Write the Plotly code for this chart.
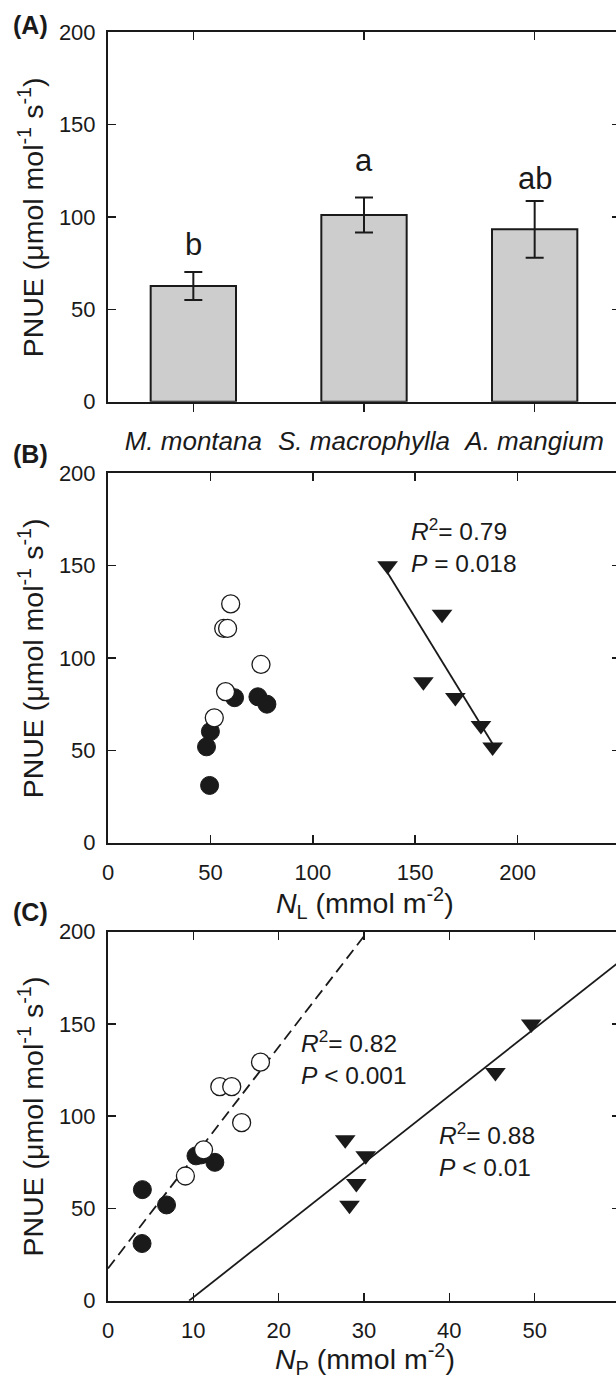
import plotly.graph_objects as go

# ---------------- data ----------------
species = ["M. montana", "S. macrophylla", "A. mangium"]
pnue_mean = [62.6, 101.1, 93.3]
pnue_se = [7.6, 9.5, 15.3]
sig_letters = ["b", "a", "ab"]

# M. montana (filled circles)
mm_NL = [50.0, 48.1, 49.6, 61.8, 73.2, 77.6]
mm_NP = [4.03, 6.86, 3.99, 10.31, 10.9, 12.52]
mm_PNUE = [60.2, 51.9, 31.0, 78.5, 79.0, 75.0]

# S. macrophylla (open circles)
sm_NL = [59.9, 56.5, 58.4, 74.7, 57.4, 51.9]
sm_NP = [17.87, 13.1, 14.5, 15.66, 11.2, 9.07]
sm_PNUE = [129.3, 116.0, 116.0, 96.5, 81.8, 67.6]

# A. mangium (filled triangles)
am_NL = [136.5, 163.1, 154.0, 169.6, 182.1, 187.8]
am_NP = [49.6, 45.4, 27.8, 30.2, 29.1, 28.3]
am_PNUE = [150.0, 123.7, 87.2, 78.6, 63.5, 51.8]

# regression lines (end points)
fitB_x = [136.5, 187.8]
fitB_y = [146.2, 53.6]
fitC_circ_x = [0.0, 30.4]
fitC_circ_y = [17.5, 200.0]
fitC_tri_x = [9.5, 60.0]
fitC_tri_y = [0.0, 184.0]

y_ticks = [0, 50, 100, 150, 200]
xB_ticks = [0, 50, 100, 150, 200]
xC_ticks = [0, 10, 20, 30, 40, 50]

# ---------------- styling ----------------
INK = "#1a1a1a"
FONT = "Liberation Sans, Arial, sans-serif"
W, H = 624, 1378          # right edge of the figure is cut by the 616 px window, like the reference
ML, MR, MT, MB = 108, 2, 32, 77
PW = W - ML - MR
PH = H - MT - MB


def px_x(px):
    return (px - ML) / PW


def px_y(py):
    return (H - MB - py) / PH


domA = [px_y(401.7), px_y(32.3)]
domB = [px_y(842.7), px_y(473.3)]
domC = [max(0, px_y(1300.7)), px_y(931.7)]

fig = go.Figure()

# Panel A bars
fig.add_trace(go.Bar(
    x=[1, 2, 3], y=pnue_mean, width=0.5,
    marker=dict(color="#cdcdcd", line=dict(color=INK, width=2)),
    error_y=dict(type="data", array=pnue_se, visible=True, color=INK, thickness=2, width=9),
    xaxis="x", yaxis="y", showlegend=False, hoverinfo="skip"))

circ = dict(size=18)
tri = dict(size=18, symbol="triangle-down", color=INK, line=dict(width=0))

# Panel B
fig.add_trace(go.Scatter(x=fitB_x, y=fitB_y, mode="lines", line=dict(color=INK, width=1.8),
                         xaxis="x2", yaxis="y2", showlegend=False))
fig.add_trace(go.Scatter(x=mm_NL, y=mm_PNUE, mode="markers",
                         marker=dict(**circ, color=INK, line=dict(color=INK, width=1)),
                         xaxis="x2", yaxis="y2", showlegend=False))
fig.add_trace(go.Scatter(x=sm_NL, y=sm_PNUE, mode="markers",
                         marker=dict(**circ, color="white", line=dict(color=INK, width=1.3)),
                         xaxis="x2", yaxis="y2", showlegend=False))
fig.add_trace(go.Scatter(x=am_NL, y=am_PNUE, mode="markers", marker=tri,
                         xaxis="x2", yaxis="y2", showlegend=False))

# Panel C
fig.add_trace(go.Scatter(x=fitC_circ_x, y=fitC_circ_y, mode="lines",
                         line=dict(color=INK, width=1.8, dash="11px,6px"),
                         xaxis="x3", yaxis="y3", showlegend=False))
fig.add_trace(go.Scatter(x=fitC_tri_x, y=fitC_tri_y, mode="lines", line=dict(color=INK, width=1.8),
                         xaxis="x3", yaxis="y3", showlegend=False))
fig.add_trace(go.Scatter(x=mm_NP, y=mm_PNUE, mode="markers",
                         marker=dict(**circ, color=INK, line=dict(color=INK, width=1)),
                         xaxis="x3", yaxis="y3", showlegend=False))
fig.add_trace(go.Scatter(x=sm_NP, y=sm_PNUE, mode="markers",
                         marker=dict(**circ, color="white", line=dict(color=INK, width=1.3)),
                         xaxis="x3", yaxis="y3", showlegend=False))
fig.add_trace(go.Scatter(x=am_NP, y=am_PNUE, mode="markers", marker=tri,
                         xaxis="x3", yaxis="y3", showlegend=False))

# dummy trace so that the top axis of panel A is drawn
fig.add_trace(go.Scatter(x=[None], y=[None], xaxis="x4", yaxis="y", showlegend=False,
                         hoverinfo="skip", mode="markers"))

base = dict(showline=True, linewidth=2, linecolor=INK, showgrid=False, zeroline=False,
            ticks="inside", ticklen=8, tickwidth=1.5, tickcolor=INK,
            tickfont=dict(size=22, color=INK, family=FONT), fixedrange=True)

yax = dict(base, range=[0, 200], tickvals=y_ticks, ticklabelstandoff=6, mirror="ticks")

rangeA = [0.5, 3.5]
rangeB = [0, 250]
rangeC = [0, 60]

fig.update_layout(
    width=W, height=H, margin=dict(l=ML, r=MR, t=MT, b=MB),
    paper_bgcolor="white", plot_bgcolor="white",
    font=dict(family=FONT, color=INK),
    bargap=0,
    xaxis=dict(base, domain=[0, 1], anchor="y", range=rangeA, tickvals=[1, 2, 3],
               ticktext=["<i>" + s + "</i>" for s in species], ticks="outside",
               tickfont=dict(size=26, color=INK, family=FONT), ticklabelstandoff=7),
    xaxis4=dict(base, overlaying="x", anchor="y", side="top", range=rangeA, tickvals=[1, 2, 3],
                showticklabels=False),
    yaxis=dict(yax, domain=domA, anchor="x"),
    xaxis2=dict(base, domain=[0, 1], anchor="y2", range=rangeB, tickvals=xB_ticks, mirror="ticks",
                ticklabelstandoff=9),
    yaxis2=dict(yax, domain=domB, anchor="x2"),
    xaxis3=dict(base, domain=[0, 1], anchor="y3", range=rangeC, tickvals=xC_ticks, mirror="ticks",
                ticklabelstandoff=9),
    yaxis3=dict(yax, domain=domC, anchor="x3"),
)

ann = []
ytitle = "PNUE (μmol mol<sup>-1</sup> s<sup>-1</sup>)"
title_font = dict(size=28.5, family=FONT, color=INK)
for dom in (domA, domB, domC):
    ann.append(dict(text=ytitle, textangle=-90, xref="paper", yref="paper",
                    x=px_x(31), y=(dom[0] + dom[1]) / 2, xanchor="center", yanchor="middle",
                    showarrow=False, font=title_font))

ann.append(dict(text="<i>N</i><sub>L</sub> (mmol m<sup>-2</sup>)", xref="paper", yref="paper",
                x=px_x(366), y=px_y(903), xanchor="center", yanchor="middle", showarrow=False,
                font=title_font))
ann.append(dict(text="<i>N</i><sub>P</sub> (mmol m<sup>-2</sup>)", xref="paper", yref="paper",
                x=px_x(366), y=px_y(1359), xanchor="center", yanchor="middle", showarrow=False,
                font=title_font))

for lab, cy in (("(A)", 25), ("(B)", 454), ("(C)", 912)):
    ann.append(dict(text="<b>" + lab + "</b>", xref="paper", yref="paper", x=px_x(11), y=px_y(cy),
                    xanchor="left", yanchor="middle", showarrow=False,
                    font=dict(size=25, family=FONT, color=INK)))

for i, (m, se, lt) in enumerate(zip(pnue_mean, pnue_se, sig_letters)):
    ann.append(dict(text=lt, xref="x", yref="y", x=i + 1, y=m + se, xanchor="center",
                    yanchor="bottom", yshift=[8, 17, 3][i], showarrow=False,
                    font=dict(size=31, family=FONT, color=INK)))

stat_font = dict(size=24.5, family=FONT, color=INK)
for txt, lx, top in (("<i>R</i><sup>2</sup>= 0.79<br><i>P</i> = 0.018", 410, 512),
                     ("<i>R</i><sup>2</sup>= 0.82<br><i>P</i> &lt; 0.001", 300, 1024),
                     ("<i>R</i><sup>2</sup>= 0.88<br><i>P</i> &lt; 0.01", 438, 1116)):
    ann.append(dict(text=txt, xref="paper", yref="paper", x=px_x(lx), y=px_y(top),
                    xanchor="left", yanchor="top", align="left", showarrow=False, font=stat_font))

fig.update_layout(annotations=ann)
fig.write_html("out.html", config={"displayModeBar": False, "staticPlot": True},
               post_script="document.body.style.margin='0';document.body.style.overflow='hidden';")
